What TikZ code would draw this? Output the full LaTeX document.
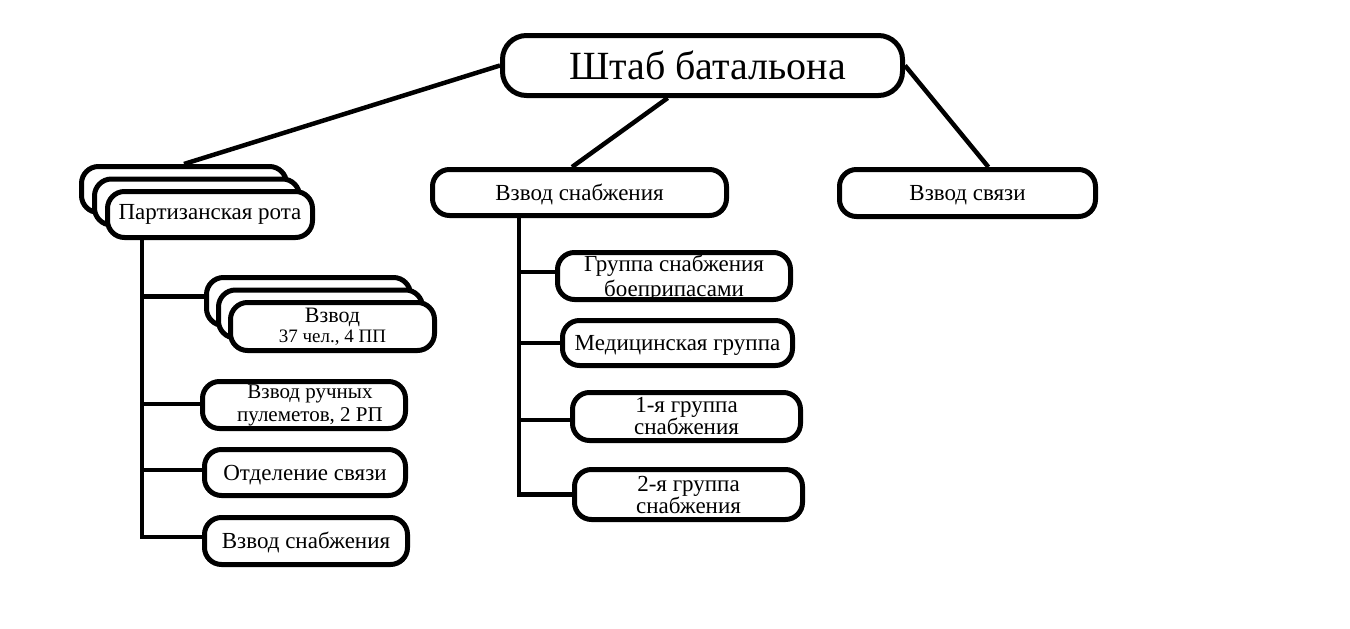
\documentclass[tikz,border=0pt]{standalone}
\usepackage{fontspec}
\setmainfont{Liberation Serif}
\usetikzlibrary{calc}
\begin{document}
\begin{tikzpicture}[x=1pt,y=-1pt,
  box/.style={draw, line width=5pt, rounded corners=17pt, fill=white, inner sep=0pt, align=center, font=\fontsize{23}{25}\selectfont},
  oneline/.style={text height=19pt, text depth=4pt},
  conn/.style={line width=4.5pt}]
\useasboundingbox[fill=white] (0,0) rectangle (1350,629);
% top
\node[box, rounded corners=24pt, minimum width=400pt, minimum height=60pt, font=\fontsize{40}{44}\selectfont] (hq) at (702.5,65.5) {\hspace*{10pt}Штаб батальона};
% partisan company stack
\node[box, minimum width=205pt, minimum height=46pt] (prB) at (184,189.5) {};
\node[box, minimum width=205pt, minimum height=46pt] (prM) at (197,202) {};
\node[box, minimum width=205pt, minimum height=46pt] (prF) at (210,214.5) {Партизанская рота};
% platoon stack
\node[box, minimum width=204pt, minimum height=48pt] (vzB) at (308.5,301.5) {};
\node[box, minimum width=204pt, minimum height=48pt] (vzM) at (320.5,314) {};
\node[box, minimum width=204pt, minimum height=48pt, font=\fontsize{22}{25}\selectfont] (vzF) at (332.5,326.5) {Взвод\\[-5pt]{\fontsize{19}{20}\selectfont 37 чел., 4 ПП}};
\node[box, minimum width=203pt, minimum height=47pt, font=\fontsize{21}{23}\selectfont] (rp) at (304,405) {\hspace*{12pt}Взвод ручных\\\hspace*{12pt}пулеметов, 2 РП};
\node[box, oneline, minimum width=201pt, minimum height=46pt] (os) at (305,472.5) {Отделение связи};
\node[box, oneline, minimum width=203pt, minimum height=47pt] (vsl) at (306,541) {Взвод снабжения};
% middle column
\node[box, oneline, minimum width=294pt, minimum height=46pt] (vs) at (579.5,192.5) {Взвод снабжения};
\node[box, oneline, minimum width=256pt, minimum height=47pt] (vsv) at (967.5,193) {Взвод связи};
\begin{scope}
  \clip (557,252) rectangle (791,298);
  \node[inner sep=0pt, align=center, font=\fontsize{23}{25}\selectfont] (gsbt) at (674,278) {Группа снабжения\\боеприпасами};
\end{scope}
\node[box, fill=none, minimum width=233pt, minimum height=47pt] (gsb) at (674,276) {};
\node[box, oneline, minimum width=230pt, minimum height=45pt] (med) at (677.5,343) {Медицинская группа};
\node[box, minimum width=228pt, minimum height=48pt, font=\fontsize{23}{22}\selectfont] (g1) at (686.5,416.5) {1-я группа\\снабжения};
\node[box, minimum width=228pt, minimum height=50pt, font=\fontsize{23}{22}\selectfont] (g2) at (688.5,494.5) {2-я группа\\снабжения};
% connectors from HQ
\draw[conn] (hq.west) -- (prB.north);
\draw[conn] ($(hq.south west)!0.414!(hq.south east)$) -- ($(vs.north west)!0.475!(vs.north east)$);
\draw[conn] (hq.east) -- ($(vsv.north west)!0.58!(vsv.north east)$);
% left trunk
\coordinate (lt) at ([xshift=37pt]prF.south west);
\coordinate (evz) at ([yshift=5pt]vzB.west);
\coordinate (eos) at ([yshift=2.5pt]os.west);
\coordinate (evsl) at ([yshift=4pt]vsl.west);
\coordinate (erp) at ([yshift=1pt]rp.west);
\draw[conn] (lt) |- (evsl);
\draw[conn] (lt |- evz) -- (evz);
\draw[conn] (lt |- erp) -- (erp);
\draw[conn] (lt |- eos) -- (eos);
% middle trunk
\coordinate (mt) at ([xshift=89pt]vs.south west);
\coordinate (egsb) at ([yshift=4pt]gsb.west);
\coordinate (eg1) at ([yshift=-3.5pt]g1.west);
\draw[conn] (mt) |- (g2.west);
\draw[conn] (mt |- egsb) -- (egsb);
\draw[conn] (mt |- med.west) -- (med.west);
\draw[conn] (mt |- eg1) -- (eg1);
\end{tikzpicture}
\end{document}
